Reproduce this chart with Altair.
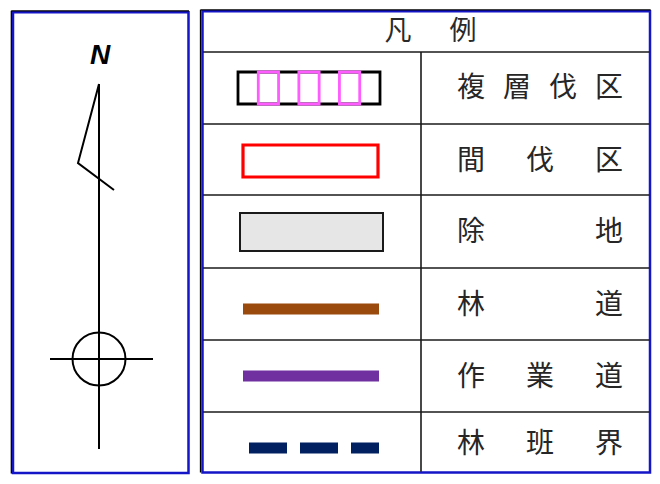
import altair as alt
import pandas as pd

# ---------------- data ----------------
header_chars = ["凡", "例"]
labels = ["複層伐区", "間伐区", "除地", "林道", "作業道", "林班界"]
row_lines = [52, 124, 195, 268, 340, 412]          # table horizontal rules (ref px)
row_text_y = [88, 161, 232, 305, 377, 447]
line_colors = {"林道": "#9A4A0C", "作業道": "#7030A0", "林班界": "#002060"}
line_y = {"林道": 309, "作業道": 376, "林班界": 452}

needle_x = [99, 78, 114]
needle_y = [84, 163, 190]
stem_x = [99, 99]
stem_y = [84, 453]
cross_x = [50, 153]
cross_y = [359, 359]
circle_c = [99, 359]

# The page has an 8px margin; the plot area must fit inside it without scrolling.
# Piecewise scales keep the interior 1:1 with the reference and squeeze only the edges.
W, H = 644, 468
xs = alt.Scale(domain=[0, 24, 636, 660], range=[0, 16, 628, 644], nice=False, zero=False)
ys = alt.Scale(domain=[0, 24, 420, 484], range=[0, 16, 412, 468], nice=False, zero=False)


def X(f="x"):
    return alt.X(f + ":Q", scale=xs, axis=None)


def Y(f="y"):
    return alt.Y(f + ":Q", scale=ys, axis=None)


def rules(rows, color, width, dash=None, cap="butt"):
    kw = dict(color=color, strokeWidth=width, strokeCap=cap)
    if dash:
        kw["strokeDash"] = dash
    return alt.Chart(pd.DataFrame(rows)).mark_rule(**kw).encode(
        x=X(), y=Y(), x2=alt.X2("x2:Q"), y2=alt.Y2("y2:Q"))


def rects(rows, fill, stroke, width):
    kw = dict(stroke=stroke, strokeWidth=width)
    if fill:
        kw["fill"] = fill
    else:
        kw["fillOpacity"] = 0
        kw["fill"] = "white"
    return alt.Chart(pd.DataFrame(rows)).mark_rect(**kw).encode(
        x=X(), y=Y(), x2=alt.X2("x2:Q"), y2=alt.Y2("y2:Q"))


layers = []

# ---- panels ----
BLUE = "#1515C8"
layers.append(rects([{"x": 7.5, "x2": 188.5, "y": 6.5, "y2": 480.5}], "white", BLUE, 2.5))
layers.append(rects([{"x": 202.5, "x2": 657, "y": 5, "y2": 480}], "white", BLUE, 2.5))
layers.append(rules([
    {"x": 5, "x2": 5, "y": 4.3, "y2": 481},
    {"x": 5, "x2": 189, "y": 4.3, "y2": 4.3},
    {"x": 200.5, "x2": 200.5, "y": 2.8, "y2": 480},
    {"x": 200.5, "x2": 658, "y": 2.8, "y2": 2.8},
], "#000000", 1.3))

# ---- table grid ----
grid = [{"x": 203, "x2": 656, "y": v, "y2": v} for v in row_lines]
grid.append({"x": 421, "x2": 421, "y": row_lines[0], "y2": 479})
layers.append(rules(grid, "#1a1a1a", 1.6))

# ---- header text ----
hdr = pd.DataFrame({"x": [398, 463], "y": [32, 32], "t": header_chars})
layers.append(alt.Chart(hdr).mark_text(font="Noto Sans CJK JP", fontSize=27, color="#2a2a2a",
                                       align="center", baseline="middle").encode(
    x=X(), y=Y(), text="t:N"))

# ---- label text (characters spread across the cell) ----
chars = []
x0, x1 = 471, 609
for lab, yy in zip(labels, row_text_y):
    n = len(lab)
    for i, ch in enumerate(lab):
        xx = x0 + (x1 - x0) * i / (n - 1)
        chars.append({"x": xx, "y": yy + 1, "t": ch})
layers.append(alt.Chart(pd.DataFrame(chars)).mark_text(font="Noto Sans CJK JP", fontSize=28,
                                                       color="#262626", align="center",
                                                       baseline="middle").encode(
    x=X(), y=Y(), text="t:N"))

# ---- symbol 1: 複層伐区 ----
sx0, sx1, sy0, sy1 = 238, 380, 72, 104
seg = (sx1 - sx0) / 7
layers.append(rects([{"x": sx0, "x2": sx1, "y": sy0, "y2": sy1}], None, "#000000", 2.8))
layers.append(rects([{"x": sx0 + seg * k, "x2": sx0 + seg * (k + 1), "y": sy0, "y2": sy1}
                     for k in (1, 3, 5)], None, "#FF5CFF", 2.8))

# ---- symbol 2: 間伐区 ----
layers.append(rects([{"x": 243, "x2": 378, "y": 145, "y2": 177}], None, "#FF0000", 3.2))

# ---- symbol 3: 除地 ----
layers.append(rects([{"x": 240, "x2": 383, "y": 213, "y2": 251}], "#E6E6E6", "#1a1a1a", 2))

# ---- symbols 4-6: lines ----
layers.append(rules([{"x": 243, "x2": 379, "y": line_y["林道"], "y2": line_y["林道"]}],
                    line_colors["林道"], 11))
layers.append(rules([{"x": 243, "x2": 379, "y": line_y["作業道"], "y2": line_y["作業道"]}],
                    line_colors["作業道"], 11))
layers.append(rules([{"x": 249, "x2": 379, "y": line_y["林班界"], "y2": line_y["林班界"]}],
                    line_colors["林班界"], 11, dash=[38, 13]))

# ---- compass ----
layers.append(rules([
    {"x": stem_x[0], "x2": stem_x[1], "y": stem_y[0], "y2": stem_y[1]},
    {"x": cross_x[0], "x2": cross_x[1], "y": cross_y[0], "y2": cross_y[1]},
], "#000000", 2))
nd = pd.DataFrame({"x": needle_x, "y": needle_y, "o": [0, 1, 2]})
layers.append(alt.Chart(nd).mark_line(color="#000000", strokeWidth=2, strokeJoin="miter").encode(
    x=X(), y=Y(), order="o:Q"))
cc = pd.DataFrame({"x": [circle_c[0]], "y": [circle_c[1]]})
layers.append(alt.Chart(cc).mark_point(shape="circle", filled=False, color="#000000",
                                       strokeWidth=2, opacity=1, size=2809).encode(x=X(), y=Y()))
nl = pd.DataFrame({"x": [100], "y": [56], "t": ["N"]})
layers.append(alt.Chart(nl).mark_text(font="Liberation Sans", fontSize=28, fontStyle="italic",
                                      fontWeight="bold", color="#000000", align="center",
                                      baseline="middle").encode(x=X(), y=Y(), text="t:N"))

chart = alt.layer(*layers).properties(
    width=W, height=H, padding=0, autosize="none", background="white"
).configure_view(strokeWidth=0)

chart.save("out.html", embed_options={"renderer": "svg", "actions": False})
